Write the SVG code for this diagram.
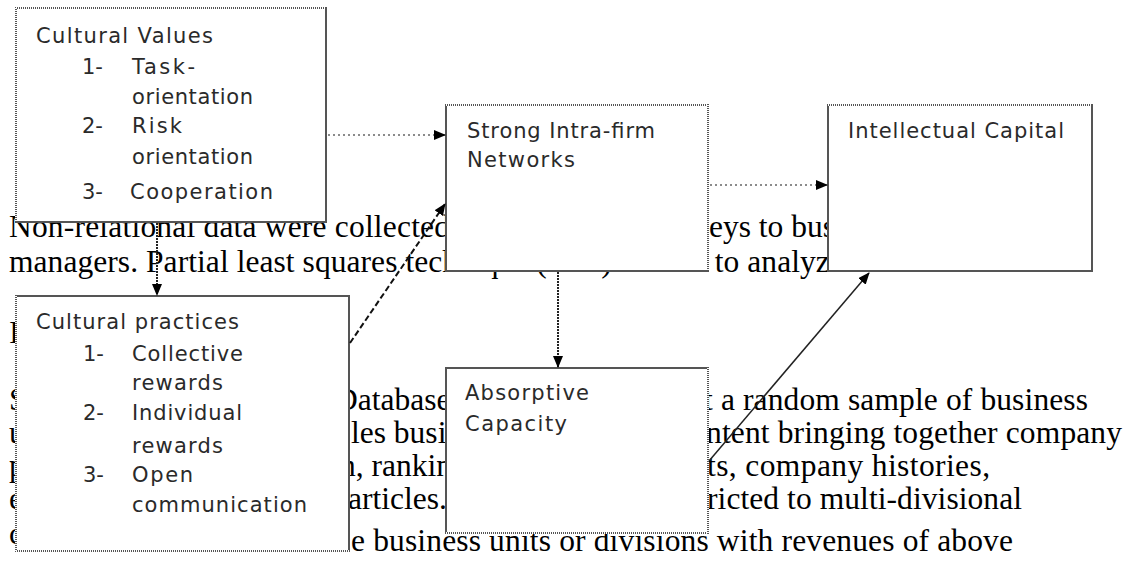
<svg xmlns="http://www.w3.org/2000/svg" width="1124" height="561" viewBox="0 0 1124 561">
<style>
.bg{font-family:"Liberation Serif","Times New Roman",serif;font-size:31.5px;fill:#000}
.lb{font-family:"DejaVu Sans",sans-serif;font-size:21px;fill:#2a2a2a}
.box{fill:#fff;stroke:#555;stroke-width:2}
.dot{stroke:#fff;stroke-width:2;stroke-dasharray:1 1}
.c{fill:none}
.gray{stroke:#666;stroke-width:1.5;stroke-dasharray:2 3}
.dense{stroke:#222;stroke-width:2;stroke-dasharray:2 1}
.dash{stroke:#111;stroke-width:2;stroke-dasharray:6 3}
.solid{stroke:#222;stroke-width:1.5}
</style>
<defs>
<marker id="ah" markerWidth="12" markerHeight="10" refX="11" refY="5" orient="auto" markerUnits="userSpaceOnUse">
<path d="M0,0 L12,5 L0,10 z" fill="#000"/>
</marker>
</defs>
<g id="background-text">
<text class="bg" x="9" y="237" textLength="441" lengthAdjust="spacing">Non-relational data were collected</text>
<text class="bg" x="709" y="237">eys to bus</text>
<text class="bg" x="9" y="272" textLength="950" lengthAdjust="spacing">managers. Partial least squares technique (PLS) is used to analyze the data.</text>
<text class="bg" x="9" y="343">I</text>
<text class="bg" x="9" y="410">S</text>
<text class="bg" x="335" y="410">Database</text>
<text class="bg" x="704" y="410" textLength="384" lengthAdjust="spacing">t a random sample of business</text>
<text class="bg" x="9" y="443">u</text>
<text class="bg" x="351" y="443">les busi</text>
<text class="bg" x="706" y="443" textLength="416" lengthAdjust="spacing">ntent bringing together company</text>
<text class="bg" x="9" y="476">p</text>
<text class="bg" x="340" y="476">n, rankin</text>
<text class="bg" x="707" y="476" textLength="283" lengthAdjust="spacing">ts, company histories,</text>
<text class="bg" x="9" y="509">e</text>
<text class="bg" x="348" y="509">articles.</text>
<text class="bg" x="707" y="509" textLength="315" lengthAdjust="spacing">ricted to multi-divisional</text>
<text class="bg" x="9" y="544">c</text>
<text class="bg" x="351" y="551" textLength="662" lengthAdjust="spacing">e business units or divisions with revenues of above</text>
</g>
<g id="node-cultural-values">
<rect class="box" x="16" y="8" width="310" height="214"/>
<line class="dot" x1="16" y1="8" x2="16" y2="222"/>
<line class="dot" x1="16" y1="8" x2="326" y2="8"/>
<text class="lb" x="36" y="43" textLength="177" lengthAdjust="spacing">Cultural Values</text>
<text class="lb" x="82" y="74">1-</text>
<text class="lb" x="132" y="74" textLength="63" lengthAdjust="spacing">Task-</text>
<text class="lb" x="132" y="104" textLength="121" lengthAdjust="spacing">orientation</text>
<text class="lb" x="82" y="133">2-</text>
<text class="lb" x="132" y="133" textLength="50" lengthAdjust="spacing">Risk</text>
<text class="lb" x="132" y="164" textLength="121" lengthAdjust="spacing">orientation</text>
<text class="lb" x="82" y="199">3-</text>
<text class="lb" x="130" y="199" textLength="143" lengthAdjust="spacing">Cooperation</text>
</g>
<g id="node-cultural-practices">
<rect class="box" x="16" y="296" width="333" height="255"/>
<line class="dot" x1="16" y1="296" x2="16" y2="551"/>
<line class="dot" x1="16" y1="551" x2="349" y2="551"/>
<text class="lb" x="36" y="329" textLength="203" lengthAdjust="spacing">Cultural practices</text>
<text class="lb" x="83" y="361">1-</text>
<text class="lb" x="132" y="361" textLength="111" lengthAdjust="spacing">Collective</text>
<text class="lb" x="132" y="390" textLength="91" lengthAdjust="spacing">rewards</text>
<text class="lb" x="83" y="420">2-</text>
<text class="lb" x="132" y="420" textLength="110" lengthAdjust="spacing">Individual</text>
<text class="lb" x="132" y="453" textLength="91" lengthAdjust="spacing">rewards</text>
<text class="lb" x="83" y="482">3-</text>
<text class="lb" x="132" y="482" textLength="61" lengthAdjust="spacing">Open</text>
<text class="lb" x="132" y="512" textLength="175" lengthAdjust="spacing">communication</text>
</g>
<g id="node-intra-firm-networks">
<rect class="box" x="446" y="105" width="262" height="166"/>
<line class="dot" x1="446" y1="105" x2="708" y2="105"/>
<line class="dot" x1="708" y1="105" x2="708" y2="271"/>
<text class="lb" x="467" y="138" textLength="188" lengthAdjust="spacing">Strong Intra-firm</text>
<text class="lb" x="467" y="167" textLength="108" lengthAdjust="spacing">Networks</text>
</g>
<g id="node-intellectual-capital">
<rect class="box" x="828" y="105" width="264" height="166"/>
<line class="dot" x1="828" y1="105" x2="1092" y2="105"/>
<text class="lb" x="848" y="138" textLength="216" lengthAdjust="spacing">Intellectual Capital</text>
</g>
<g id="node-absorptive-capacity">
<rect class="box" x="446" y="368" width="262" height="165"/>
<line class="dot" x1="708" y1="368" x2="708" y2="533"/>
<line class="dot" x1="446" y1="533" x2="708" y2="533"/>
<text class="lb" x="465" y="400" textLength="124" lengthAdjust="spacing">Absorptive</text>
<text class="lb" x="465" y="431" textLength="102" lengthAdjust="spacing">Capacity</text>
</g>
<g id="connectors">
<line class="c gray" x1="328" y1="135" x2="445" y2="135" marker-end="url(#ah)"/>
<line class="c gray" x1="710" y1="185" x2="827" y2="185" marker-end="url(#ah)"/>
<line class="c dense" x1="157" y1="223" x2="157" y2="295" marker-end="url(#ah)"/>
<line class="c dash" x1="350" y1="343" x2="445" y2="204" marker-end="url(#ah)"/>
<line class="c dense" x1="558" y1="272" x2="558" y2="367" marker-end="url(#ah)"/>
<line class="c solid" x1="709" y1="461" x2="869" y2="273" marker-end="url(#ah)"/>
</g>
</svg>
